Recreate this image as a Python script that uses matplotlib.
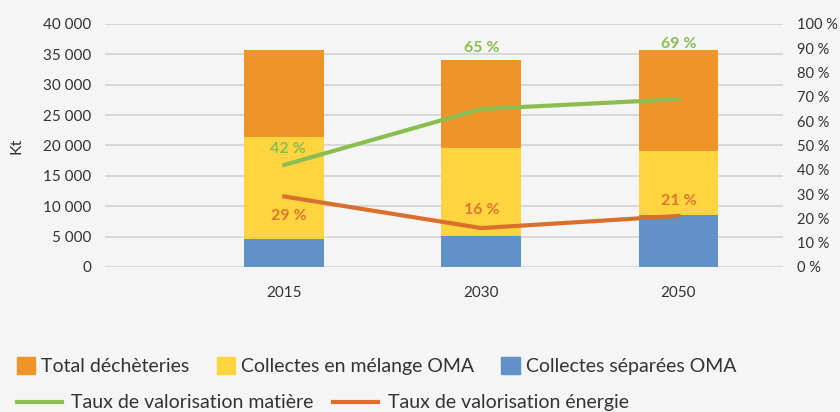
import matplotlib.pyplot as plt
from matplotlib.patches import Patch
from matplotlib.lines import Line2D
from matplotlib.ticker import FuncFormatter

plt.rcParams['font.family'] = ['Lato', 'DejaVu Sans']

# data
years = ["2015", "2030", "2050"]
separees = [4610, 5100, 8560]          # Collectes séparées OMA
melange = [16790, 14540, 10530]        # Collectes en mélange OMA
decheteries = [14320, 14430, 16630]    # Total déchèteries
taux_matiere = [42, 65, 69]
taux_energie = [29, 16, 21]

# label offsets (pixels) from each point
off_matiere = [(4, 16), (0, 61), (0, 55)]
off_energie = [(4, -20), (0, 18), (0, 15)]

c_orange = "#ee9428"
c_yellow = "#ffd43f"
c_blue = "#6192c7"
c_green = "#8bbd50"
c_line_or = "#d96f2b"
bg = "#f5f5f5"
grid_c = "#d3d3d3"
txt = "#333333"

fig = plt.figure(figsize=(8.4, 4.12), dpi=100, facecolor=bg)
ax = fig.add_axes([0.125, 0.352, 0.807, 0.590])
ax.set_facecolor(bg)

x = list(range(len(years)))
w = 0.405
ax.bar(x, separees, w, color=c_blue, zorder=2)
b2 = [s for s in separees]
ax.bar(x, melange, w, bottom=b2, color=c_yellow, zorder=2)
b3 = [s + m for s, m in zip(separees, melange)]
ax.bar(x, decheteries, w, bottom=b3, color=c_orange, zorder=2)

ax.set_xlim(-0.91, 2.53)
ax.set_ylim(0, 40000)
ax.set_yticks(range(0, 40001, 5000))
ax.yaxis.set_major_formatter(FuncFormatter(lambda v, p: f"{int(v):,}".replace(",", " ")))
ax.set_xticks(x)
ax.set_xticklabels(years)
ax.grid(axis='y', color=grid_c, linewidth=1.2, zorder=0)
for s in ax.spines.values():
    s.set_visible(False)
ax.tick_params(axis='both', length=0, labelsize=11, colors=txt, pad=10)
ax.tick_params(axis='x', pad=14)
ax.set_ylabel("Kt", fontsize=11.5, color=txt, labelpad=14)

ax2 = ax.twinx()
ax2.set_ylim(0, 100)
ax2.set_yticks(range(0, 101, 10))
ax2.set_yticklabels([f"{v} %" for v in range(0, 101, 10)])
for s in ax2.spines.values():
    s.set_visible(False)
ax2.tick_params(axis='y', length=0, labelsize=10.5, colors=txt, pad=10)

ax2.plot(x, taux_matiere, color=c_green, linewidth=3, zorder=3)
ax2.plot(x, taux_energie, color=c_line_or, linewidth=3, zorder=3)

for xi, v, o in zip(x, taux_matiere, off_matiere):
    ax2.annotate(f"{v} %", (xi, v), xytext=o, textcoords='offset pixels',
                 ha='center', va='center', color=c_green, fontsize=11.5, fontweight='bold')
for xi, v, o in zip(x, taux_energie, off_energie):
    ax2.annotate(f"{v} %", (xi, v), xytext=o, textcoords='offset pixels',
                 ha='center', va='center', color="#e0762f", fontsize=11.5, fontweight='bold')

h1 = [Patch(color=c_orange, label="Total déchèteries"),
      Patch(color=c_yellow, label="Collectes en mélange OMA"),
      Patch(color=c_blue, label="Collectes séparées OMA")]
fig.legend(handles=h1, loc='center left', bbox_to_anchor=(0.020, 0.112), ncol=3,
           frameon=False, fontsize=14, handlelength=0.95, handleheight=0.95,
           handletextpad=0.3, columnspacing=1.4, labelcolor=txt,
           borderpad=0, borderaxespad=0)
h2 = [Line2D([], [], color=c_green, linewidth=3, label="Taux de valorisation matière"),
      Line2D([], [], color=c_line_or, linewidth=3, label="Taux de valorisation énergie")]
fig.legend(handles=h2, loc='center left', bbox_to_anchor=(0.020, 0.022), ncol=2,
           frameon=False, fontsize=14, handlelength=2.3, handletextpad=0.5,
           columnspacing=1.0, labelcolor=txt, borderpad=0, borderaxespad=0)

fig.savefig("out.png", dpi=100, facecolor=bg)
